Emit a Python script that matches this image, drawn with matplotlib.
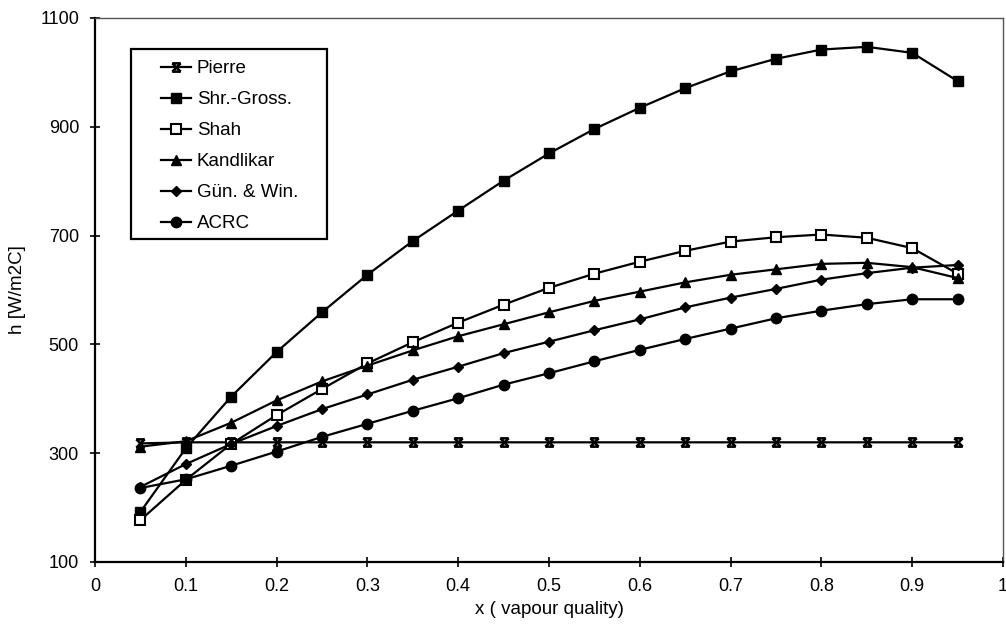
import numpy as np
import matplotlib
matplotlib.use("Agg")
import matplotlib.pyplot as plt
from matplotlib.path import Path
from matplotlib.patches import Rectangle

# vapour quality
x = [0.05, 0.10, 0.15, 0.20, 0.25, 0.30, 0.35, 0.40, 0.45, 0.50,
     0.55, 0.60, 0.65, 0.70, 0.75, 0.80, 0.85, 0.90, 0.95]

pierre = [318, 320, 320, 320, 320, 320, 320, 320, 320, 320,
          320, 320, 320, 320, 320, 320, 320, 320, 320]
shr_gross = [192, 309, 404, 486, 559, 628, 690, 746, 801, 851,
             896, 935, 971, 1002, 1025, 1042, 1047, 1036, 984]
shah = [177, 251, 317, 370, 418, 465, 504, 540, 573, 604,
        630, 652, 672, 689, 697, 702, 696, 677, 630]
kandlikar = [312, 322, 356, 397, 432, 461, 489, 515, 537, 559,
             580, 597, 614, 628, 638, 648, 650, 642, 622]
gun_win = [238, 280, 317, 350, 381, 408, 435, 459, 484, 505,
           526, 546, 568, 586, 602, 619, 631, 641, 646]
acrc = [236, 252, 277, 303, 330, 354, 378, 401, 426, 447,
        469, 490, 510, 529, 548, 562, 574, 583, 583]

xticks = [0, 0.1, 0.2, 0.3, 0.4, 0.5, 0.6, 0.7, 0.8, 0.9, 1]
xticklabels = ["0", "0.1", "0.2", "0.3", "0.4", "0.5", "0.6", "0.7", "0.8", "0.9", "1"]
yticks = [100, 300, 500, 700, 900, 1100]

plt.rcParams['font.family'] = ['Liberation Sans', 'DejaVu Sans']

# x marker with bars on top and bottom, like the printed one
xbar = Path([(-1, -1), (1, 1), (-1, 1), (1, -1), (-1, 1), (1, 1), (-1, -1), (1, -1)],
            [Path.MOVETO, Path.LINETO] * 4)

W, H = 1006, 630
fig = plt.figure(figsize=(W / 100, H / 100), dpi=100)
# plot area: x 95..1003 px, y 18..562 px
ax = fig.add_axes([95 / W, 1 - 562 / H, 908 / W, 544 / H])

lw = 1.6
ax.plot(x, pierre, color='black', lw=lw, marker=xbar, ms=6, mew=1.8, label='Pierre')
ax.plot(x, shr_gross, color='black', lw=lw, marker='s', ms=7.5, mfc='black', label='Shr.-Gross.')
ax.plot(x, shah, color='black', lw=lw, marker='s', ms=7.5, mfc='white', mew=1.5, label='Shah')
ax.plot(x, kandlikar, color='black', lw=lw, marker='^', ms=7.5, mfc='black', label='Kandlikar')
ax.plot(x, gun_win, color='black', lw=lw, marker='D', ms=5.5, mfc='black', label='Gün. & Win.')
ax.plot(x, acrc, color='black', lw=lw, marker='o', ms=7.5, mfc='black', label='ACRC')

ax.set_xlim(0, 1)
ax.set_ylim(100, 1100)
ax.set_xticks(xticks)
ax.set_xticklabels(xticklabels)
ax.set_yticks(yticks)
ax.tick_params(direction='inout', length=7, width=1.2, labelsize=13, pad=8)
ax.set_xlabel('x ( vapour quality)', fontsize=13.5, labelpad=4)
ax.set_ylabel('h [W/m2C]', fontsize=13.5, labelpad=10)

for side in ['left', 'bottom']:
    ax.spines[side].set_linewidth(1.6)
for side in ['top', 'right']:
    ax.spines[side].set_linewidth(1.0)
    ax.spines[side].set_color('#555555')

# legend box drawn separately so its size matches the printed one
ax.add_patch(Rectangle(((131 - 95) / 908, 1 - (239 - 18) / 544), 196 / 908, 190 / 544,
                       transform=ax.transAxes, fill=True, facecolor='white',
                       edgecolor='black', lw=1.6, zorder=4))
leg = ax.legend(loc='upper left', bbox_to_anchor=((161 - 95) / 908, 1 - (60 - 18) / 544),
                frameon=False, fontsize=13.5, handlelength=1.6, handletextpad=0.3,
                labelspacing=0.74, borderpad=0, borderaxespad=0)
leg.set_zorder(5)

fig.savefig('out.png', dpi=100)
